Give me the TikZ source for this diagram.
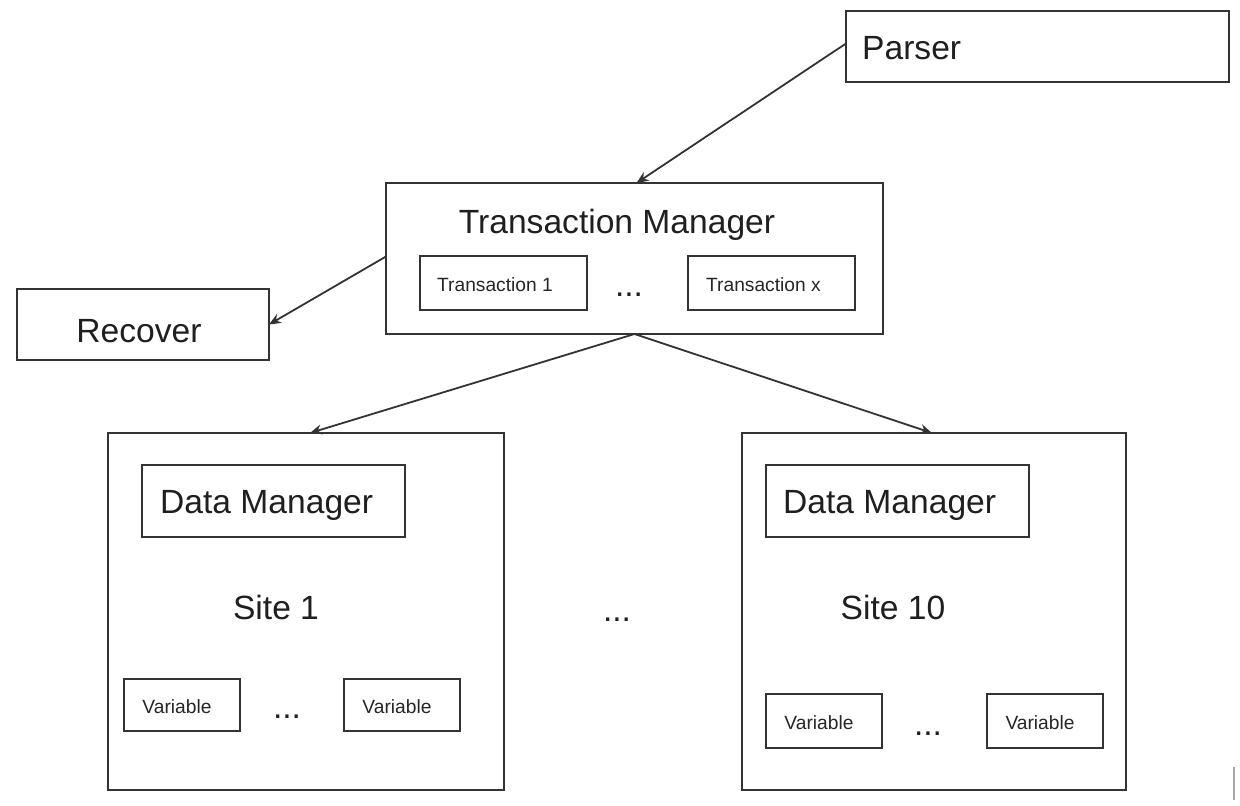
\documentclass[tikz,border=0pt]{standalone}
\usepackage{fontspec}
\setmainfont{Liberation Sans}
\usetikzlibrary{arrows.meta}
\begin{document}
\begin{tikzpicture}[x=1pt,y=-1pt,
  box/.style={draw=black!80, line width=1.8pt, inner sep=0pt, outer sep=0pt, fill=white},
  big/.style={font=\fontsize{33.6}{40}\selectfont, text=black!88, inner sep=0pt},
  small/.style={font=\fontsize{19.2}{23}\selectfont, text=black!85, inner sep=0pt},
  conn/.style={draw=black!80, line width=1.8pt, -{Stealth[length=12pt,width=10pt]}}]
\useasboundingbox[fill=white] (0,0) rectangle (1240,806);

% Parser
\node[box, anchor=north west, minimum width=383pt, minimum height=71pt] (parser) at (846,11) {};
\node[big, anchor=base west] (parsertext) at (862,59) {Parser};

% Transaction manager
\node[box, anchor=north west, minimum width=497pt, minimum height=151pt] (tm) at (386,183) {};
\node[big, anchor=base] (tmtext) at (617,233) {Transaction Manager};
\node[box, anchor=north west, minimum width=167pt, minimum height=54pt] (t1) at (420,256) {};
\node[small, anchor=base west] (t1text) at (437,291) {Transaction 1};
\node[box, anchor=north west, minimum width=167pt, minimum height=54pt] (tx) at (688,256) {};
\node[small, anchor=base west] (txtext) at (706,291) {Transaction x};
\node[big, anchor=base] (tdots) at (629,296) {...};

% Recover
\node[box, anchor=north west, minimum width=252pt, minimum height=71pt] (recover) at (17,289) {};
\node[big, anchor=base] (recovertext) at (139,342) {Recover};

% Site 1
\node[box, anchor=north west, minimum width=396pt, minimum height=357pt] (site1) at (108,433) {};
\node[box, anchor=north west, minimum width=263pt, minimum height=72pt] (dm1) at (142,465) {};
\node[big, anchor=base west] (dm1text) at (160,513) {Data Manager};
\node[big, anchor=base] (site1text) at (276,619) {Site 1};
\node[box, anchor=north west, minimum width=116pt, minimum height=52pt] (v11) at (124,679) {};
\node[small, anchor=base] (v11text) at (177,713) {Variable};
\node[box, anchor=north west, minimum width=116pt, minimum height=52pt] (v12) at (344,679) {};
\node[small, anchor=base] (v12text) at (397,713) {Variable};
\node[big, anchor=base] (v1dots) at (287,718) {...};

% middle dots
\node[big, anchor=base] (sitedots) at (617,621) {...};

% Site 10
\node[box, anchor=north west, minimum width=384pt, minimum height=357pt] (site10) at (742,433) {};
\node[box, anchor=north west, minimum width=263pt, minimum height=72pt] (dm10) at (766,465) {};
\node[big, anchor=base west] (dm10text) at (783,513) {Data Manager};
\node[big, anchor=base] (site10text) at (893,619) {Site 10};
\node[box, anchor=north west, minimum width=116pt, minimum height=54pt] (v101) at (766,694) {};
\node[small, anchor=base] (v101text) at (819,729) {Variable};
\node[box, anchor=north west, minimum width=116pt, minimum height=54pt] (v102) at (987,694) {};
\node[small, anchor=base] (v102text) at (1040,729) {Variable};
\node[big, anchor=base] (v10dots) at (928,735) {...};

% connectors
\coordinate (pstart) at ([yshift=3pt]parser.west);
\coordinate (tmtop) at ([xshift=2pt]tm.north);
\draw[conn] (pstart) -- (tmtop);
\coordinate (tmleft) at ([yshift=2pt]tm.west);
\draw[conn] (tmleft) -- (recover.east);
\draw[conn] (tm.south) -- ([xshift=4pt]site1.north);
\draw[conn] (tm.south) -- ([xshift=-2pt]site10.north);

% stray mark
\draw[black!35, line width=2pt] (1234,767) -- (1234,800);
\end{tikzpicture}
\end{document}
